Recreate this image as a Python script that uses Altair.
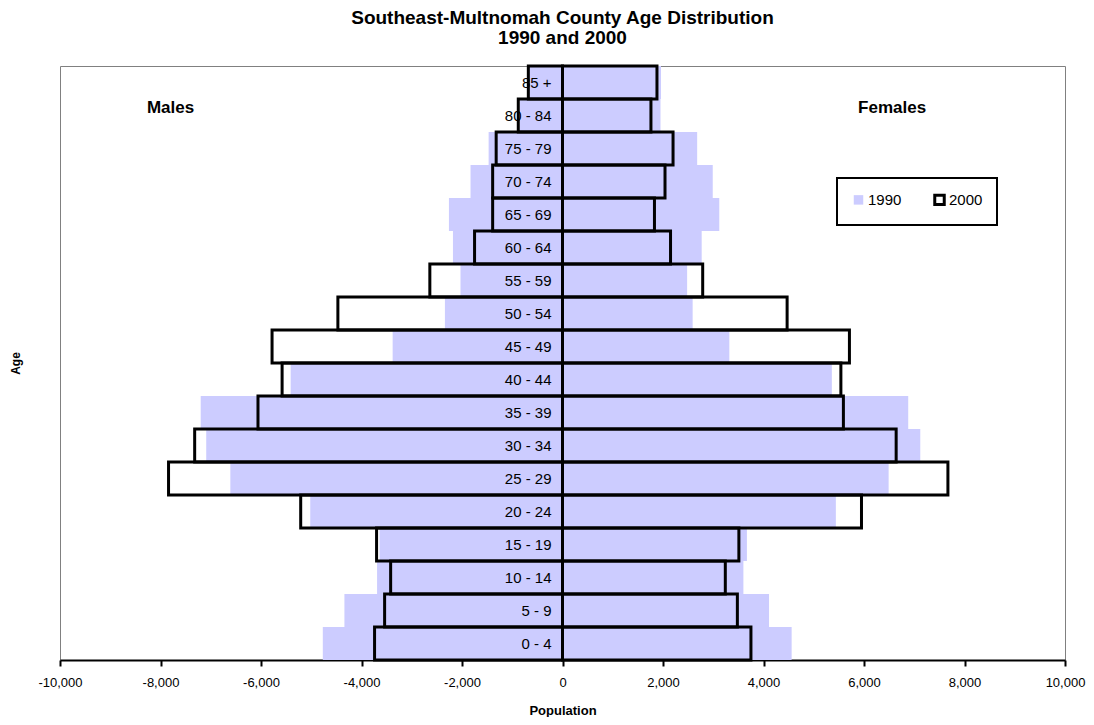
import altair as alt
import pandas as pd

FONT = "Liberation Sans, Arial, sans-serif"

ages = ["85 +", "80 - 84", "75 - 79", "70 - 74", "65 - 69", "60 - 64", "55 - 59",
        "50 - 54", "45 - 49", "40 - 44", "35 - 39", "30 - 34", "25 - 29", "20 - 24",
        "15 - 19", "10 - 14", "5 - 9", "0 - 4"]

male_1990 = [-670, -850, -1470, -1830, -2260, -2180, -2030, -2340, -3380, -5410,
             -7200, -7090, -6610, -5020, -3640, -3690, -4340, -4770]
male_2000 = [-680, -880, -1320, -1390, -1390, -1750, -2640, -4470, -5780, -5580,
             -6060, -7320, -7840, -5210, -3700, -3420, -3540, -3740]
female_1990 = [1960, 1950, 2680, 2990, 3120, 2770, 2480, 2590, 3320, 5360,
               6880, 7120, 6490, 5440, 3670, 3600, 4110, 4560]
female_2000 = [1880, 1760, 2200, 2040, 1830, 2150, 2790, 4470, 5710, 5540,
               5590, 6640, 7670, 5950, 3510, 3240, 3480, 3750]

years = ["1990", "2000"]
tick_values = [-10000, -8000, -6000, -4000, -2000, 0, 2000, 4000, 6000, 8000, 10000]
side_labels = ["Males", "Females"]
side_pos = [-7800, 6560]

rows = []
for yr, m, f in [("1990", male_1990, female_1990), ("2000", male_2000, female_2000)]:
    for a, mv, fv in zip(ages, m, f):
        rows.append({"age": a, "year": yr, "sex": "Male", "value": mv})
        rows.append({"age": a, "year": yr, "sex": "Female", "value": fv})
df = pd.DataFrame(rows)

lab_df = pd.DataFrame({"age": ages, "zero": [0] * len(ages)})
side_df = pd.DataFrame({"label": side_labels, "pos": side_pos})

x_scale = alt.Scale(domain=[-10000, 10000], nice=False)
y_scale = alt.Scale(paddingInner=0, paddingOuter=0)

legend = alt.Legend(
    orient="none", legendX=777, legendY=112, direction="horizontal", title=None,
    strokeColor="black", padding=14, columnPadding=26, labelFontSize=15,
    labelFont=FONT, labelColor="black", symbolType="square", symbolSize=90,
    symbolStrokeWidth=3, labelOffset=2,
)

bars = alt.Chart(df).mark_bar(strokeWidth=3).encode(
    x=alt.X("value:Q", stack=None, scale=x_scale,
            axis=alt.Axis(values=tick_values, grid=False, labelFlush=False,
                          labelExpr="replace(format(datum.value, ','), '\u2212', '-')",
                          title="Population", domainColor="black", domainWidth=2,
                          tickColor="black", tickWidth=2, tickSize=6,
                          labelFontSize=13, labelFont=FONT, labelColor="black",
                          labelPadding=10, titleFont=FONT, titleFontSize=13,
                          titleFontWeight="bold", titleColor="black", titlePadding=15)),
    y=alt.Y("age:N", sort=ages, scale=y_scale,
            axis=alt.Axis(title="Age", labels=False, ticks=False, domain=False, grid=False,
                          titleX=-45, titleY=297, titleAngle=270, titleFont=FONT,
                          titleFontSize=12, titleFontWeight="bold", titleColor="black",
                          titleBaseline="middle", titleAlign="center")),
    fill=alt.Fill("year:N", scale=alt.Scale(domain=years, range=["#CCCCFF", "transparent"]),
                  legend=legend),
    stroke=alt.Stroke("year:N", scale=alt.Scale(domain=years, range=["transparent", "black"]),
                      legend=legend),
)

labels = alt.Chart(lab_df).mark_text(
    align="right", baseline="middle", dx=-11, fontSize=15, font=FONT, color="black"
).encode(
    x=alt.X("zero:Q", scale=x_scale),
    y=alt.Y("age:N", sort=ages, scale=y_scale),
    text="age:N",
)

sides = alt.Chart(side_df).mark_text(
    align="center", baseline="middle", fontSize=17, fontWeight="bold", font=FONT, color="black"
).encode(
    x=alt.X("pos:Q", scale=x_scale),
    y=alt.value(42),
    text="label:N",
)

chart = alt.layer(bars, labels, sides).properties(
    width=1005, height=594,
    title=alt.TitleParams(
        text=["Southeast-Multnomah County Age Distribution", "1990 and 2000"],
        fontSize=19, font=FONT, fontWeight="bold", anchor="middle", offset=17,
        lineHeight=20, color="black",
    ),
    autosize="none",
    padding={"left": 52, "top": 58, "right": 21, "bottom": 57},
    background="white",
).configure_view(stroke="#808080", strokeWidth=1).configure_legend(strokeWidth=2)

chart.save("out.html", embed_options={"renderer": "svg", "actions": False})
